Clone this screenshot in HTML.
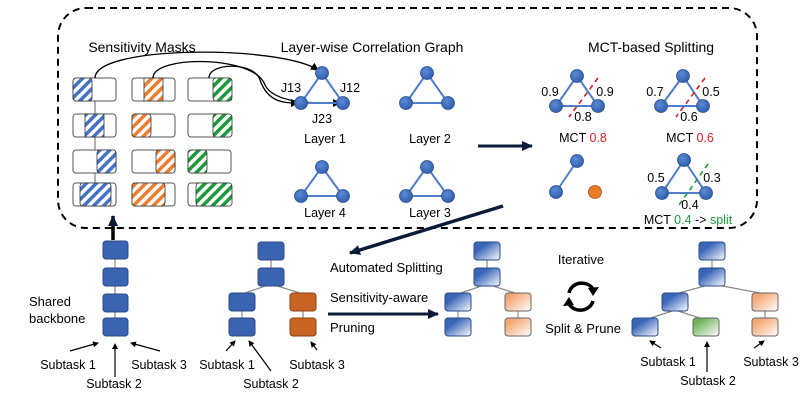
<!DOCTYPE html>
<html><head><meta charset="utf-8"><style>
body{margin:0;background:#fff}
svg{display:block;font-family:"Liberation Sans",sans-serif}
</style></head><body>
<svg width="800" height="416" viewBox="0 0 800 416" xmlns="http://www.w3.org/2000/svg">
<defs>
<pattern id="pb" width="7" height="7" patternUnits="userSpaceOnUse" patternTransform="rotate(45)"><rect width="7" height="7" fill="#fff"/><rect width="3.5" height="7" fill="#4472c4"/></pattern>
<pattern id="po" width="7" height="7" patternUnits="userSpaceOnUse" patternTransform="rotate(45)"><rect width="7" height="7" fill="#fff"/><rect width="3.5" height="7" fill="#ed7d31"/></pattern>
<pattern id="pg" width="7" height="7" patternUnits="userSpaceOnUse" patternTransform="rotate(45)"><rect width="7" height="7" fill="#fff"/><rect width="3.5" height="7" fill="#1e9a3e"/></pattern>
<linearGradient id="gb" x1="0" y1="0" x2="1" y2="1"><stop offset="0.3" stop-color="#3a66b8"/><stop offset="1" stop-color="#fff"/></linearGradient>
<linearGradient id="go" x1="0" y1="0" x2="1" y2="1"><stop offset="0.2" stop-color="#f4a672"/><stop offset="1" stop-color="#fff"/></linearGradient>
<linearGradient id="gg" x1="0" y1="0" x2="1" y2="1"><stop offset="0.2" stop-color="#6fb35a"/><stop offset="1" stop-color="#fff"/></linearGradient>
<radialGradient id="nb" cx="0.4" cy="0.35" r="0.7"><stop offset="0" stop-color="#5b8ad6"/><stop offset="1" stop-color="#2f5cab"/></radialGradient>
<marker id="ah" markerWidth="8" markerHeight="8" refX="7" refY="4" orient="auto" markerUnits="userSpaceOnUse"><path d="M0,0 L8,4 L0,8 z" fill="#000"/></marker>
<marker id="ahn" markerWidth="12" markerHeight="12" refX="10" refY="6" orient="auto" markerUnits="userSpaceOnUse"><path d="M0,1 L11,6 L0,11 z" fill="#0c1a3a"/></marker>
<marker id="ahs" markerWidth="6" markerHeight="6" refX="5" refY="3" orient="auto" markerUnits="userSpaceOnUse"><path d="M0,0 L6,3 L0,6 z" fill="#000"/></marker>
</defs>

<rect x="58" y="8" width="699" height="220" rx="28" fill="none" stroke="#000" stroke-width="2" stroke-dasharray="7,5"/>

<g font-size="14" fill="#000" text-anchor="middle">
<text x="142" y="52">Sensitivity Masks</text>
<text x="372" y="52">Layer-wise Correlation Graph</text>
<text x="651" y="52">MCT-based Splitting</text>
</g>

<!-- masks -->
<line x1="95" y1="101" x2="95" y2="183" stroke="#999" stroke-width="1.5"/>
<g stroke="#555" stroke-width="1">
<rect x="73" y="78" width="43" height="23" rx="3" fill="#fff"/>
<rect x="73" y="114" width="43" height="23" rx="3" fill="#fff"/>
<rect x="73" y="150" width="43" height="23" rx="3" fill="#fff"/>
<rect x="73" y="183" width="43" height="23" rx="3" fill="#fff"/>
<rect x="132" y="78" width="43" height="23" rx="3" fill="#fff"/>
<rect x="132" y="114" width="43" height="23" rx="3" fill="#fff"/>
<rect x="132" y="150" width="43" height="23" rx="3" fill="#fff"/>
<rect x="132" y="183" width="43" height="23" rx="3" fill="#fff"/>
<rect x="188" y="78" width="43" height="23" rx="3" fill="#fff"/>
<rect x="188" y="114" width="43" height="23" rx="3" fill="#fff"/>
<rect x="188" y="150" width="43" height="23" rx="3" fill="#fff"/>
<rect x="188" y="183" width="43" height="23" rx="3" fill="#fff"/>
</g>
<g stroke="#333" stroke-width="0.8">
<rect x="73" y="78" width="19" height="23" rx="3" fill="url(#pb)"/>
<rect x="85" y="114" width="19" height="23" fill="url(#pb)"/>
<rect x="97" y="150" width="19" height="23" rx="3" fill="url(#pb)"/>
<rect x="80" y="183" width="31" height="23" rx="3" fill="url(#pb)"/>
<rect x="144" y="78" width="19" height="23" fill="url(#po)"/>
<rect x="132" y="114" width="19" height="23" rx="3" fill="url(#po)"/>
<rect x="156" y="150" width="19" height="23" rx="3" fill="url(#po)"/>
<rect x="132" y="183" width="33" height="23" rx="3" fill="url(#po)"/>
<rect x="213" y="78" width="19" height="23" rx="3" fill="url(#pg)"/>
<rect x="213" y="114" width="19" height="23" rx="3" fill="url(#pg)"/>
<rect x="188" y="150" width="19" height="23" rx="3" fill="url(#pg)"/>
<rect x="196" y="183" width="36" height="23" rx="3" fill="url(#pg)"/>
</g>
<g fill="none" stroke="#000" stroke-width="1.3">
<path d="M95,78 C95,45 280,45 318,70" marker-end="url(#ah)"/>
<path d="M153,78 C153,55 255,55 265,85 C275,105 320,103 340,103" marker-end="url(#ah)"/>
<path d="M209,78 C209,62 255,62 260,80 C268,103 285,103 298,103" marker-end="url(#ah)"/>
</g>

<!-- graphs -->
<g stroke="#4f7cc7" stroke-width="2" fill="none">
<path d="M322,73 L301,103 L343,103 Z"/>
<path d="M427,73 L406,103 L448,103 Z"/>
<path d="M322,167 L301,196 L343,196 Z"/>
<path d="M427,167 L406,196 L448,196 Z"/>
<path d="M577,76 L556,106 L598,106 Z"/>
<path d="M683,76 L661,106 L703,106 Z"/>
<path d="M577,161 L556,192"/>
<path d="M684,160 L662,193 L706,193 Z"/>
</g>
<g fill="url(#nb)" stroke="#2b4f8f" stroke-width="0.8">
<circle cx="322" cy="73" r="6.5"/><circle cx="301" cy="103" r="6.5"/><circle cx="343" cy="103" r="6.5"/>
<circle cx="427" cy="73" r="6.5"/><circle cx="406" cy="103" r="6.5"/><circle cx="448" cy="103" r="6.5"/>
<circle cx="322" cy="167" r="6.5"/><circle cx="301" cy="196" r="6.5"/><circle cx="343" cy="196" r="6.5"/>
<circle cx="427" cy="167" r="6.5"/><circle cx="406" cy="196" r="6.5"/><circle cx="448" cy="196" r="6.5"/>
<circle cx="577" cy="76" r="6.5"/><circle cx="556" cy="106" r="6.5"/><circle cx="598" cy="106" r="6.5"/>
<circle cx="683" cy="76" r="6.5"/><circle cx="661" cy="106" r="6.5"/><circle cx="703" cy="106" r="6.5"/>
<circle cx="577" cy="161" r="6.5"/><circle cx="556" cy="192" r="6.5"/>
<circle cx="684" cy="160" r="6.5"/><circle cx="662" cy="193" r="6.5"/><circle cx="706" cy="193" r="6.5"/>
</g>
<circle cx="595" cy="192" r="6.5" fill="#e87d2c" stroke="#a54f10" stroke-width="0.8"/>
<g stroke="#d42020" stroke-width="1.6" stroke-dasharray="5,4" fill="none">
<path d="M598,78 L569,117"/><path d="M705,78 L676,117"/>
</g>
<path d="M708,164 L679,205" stroke="#1e9a3e" stroke-width="1.6" stroke-dasharray="5,4" fill="none"/>

<g font-size="12.5" fill="#000" text-anchor="middle">
<text x="291" y="92">J13</text><text x="350" y="92">J12</text><text x="322" y="123">J23</text>
<text x="325" y="143">Layer 1</text><text x="430" y="143">Layer 2</text>
<text x="325" y="217">Layer 4</text><text x="430" y="217">Layer 3</text>
<text x="550" y="96">0.9</text><text x="605" y="96">0.9</text><text x="583" y="121">0.8</text>
<text x="655" y="96">0.7</text><text x="711" y="96">0.5</text><text x="689" y="121">0.6</text>
<text x="656" y="182">0.5</text><text x="712" y="182">0.3</text><text x="690" y="209">0.4</text>
<text x="583" y="142">MCT <tspan fill="#e02020">0.8</tspan></text>
<text x="690" y="142">MCT <tspan fill="#e02020">0.6</tspan></text>
<text x="688" y="224">MCT <tspan fill="#1e9a3e">0.4</tspan> -&gt; <tspan fill="#1e9a3e">split</tspan></text>
</g>

<line x1="478" y1="146" x2="532" y2="146" stroke="#0c1a3a" stroke-width="3" marker-end="url(#ahn)"/>
<line x1="113" y1="240" x2="113" y2="216" stroke="#000" stroke-width="3.5" marker-end="url(#ahn)"/>
<line x1="503" y1="206" x2="350" y2="253" stroke="#0c1a3a" stroke-width="3.5" marker-end="url(#ahn)"/>
<line x1="328" y1="314" x2="438" y2="314" stroke="#0c1a3a" stroke-width="3" marker-end="url(#ahn)"/>

<!-- connectors -->
<g stroke="#888" stroke-width="1.2" fill="none">
<line x1="115" y1="250" x2="115" y2="327"/>
<line x1="271" y1="251" x2="271" y2="284"/><path d="M242,294 L271,284 L303,294"/><line x1="242" y1="302" x2="242" y2="327"/><line x1="303" y1="302" x2="303" y2="327"/>
<line x1="487" y1="251" x2="487" y2="284"/><path d="M458,294 L487,284 L518,294"/><line x1="458" y1="302" x2="458" y2="327"/><line x1="518" y1="302" x2="518" y2="327"/>
<line x1="712" y1="251" x2="712" y2="284"/><path d="M675,294 L712,284 L765,294"/><path d="M645,320 L675,310 L706,320"/><line x1="765" y1="302" x2="765" y2="327"/>
</g>
<g stroke="#2a4a86" stroke-width="1" fill="#3a64b0">
<rect x="103" y="241" width="25" height="18" rx="3"/><rect x="103" y="268" width="25" height="18" rx="3"/><rect x="103" y="294" width="25" height="18" rx="3"/><rect x="103" y="318" width="25" height="18" rx="3"/>
<rect x="258" y="242" width="26" height="18" rx="3"/><rect x="258" y="268" width="26" height="18" rx="3"/>
<rect x="229" y="293" width="26" height="18" rx="3"/><rect x="229" y="318" width="26" height="18" rx="3"/>
</g>
<g stroke="#8a4210" stroke-width="1" fill="#c86524">
<rect x="290" y="293" width="26" height="18" rx="3"/><rect x="290" y="318" width="26" height="18" rx="3"/>
</g>
<g stroke="#2a4a86" stroke-width="1" fill="url(#gb)">
<rect x="474" y="242" width="26" height="18" rx="3"/><rect x="474" y="268" width="26" height="18" rx="3"/>
<rect x="445" y="293" width="26" height="18" rx="3"/><rect x="445" y="318" width="26" height="18" rx="3"/>
<rect x="699" y="242" width="26" height="18" rx="3"/><rect x="699" y="268" width="26" height="18" rx="3"/>
<rect x="662" y="293" width="26" height="18" rx="3"/><rect x="632" y="318" width="26" height="18" rx="3"/>
</g>
<g stroke="#666" stroke-width="1" fill="url(#go)">
<rect x="505" y="293" width="26" height="18" rx="3"/><rect x="505" y="318" width="26" height="18" rx="3"/>
<rect x="752" y="293" width="26" height="18" rx="3"/><rect x="752" y="318" width="26" height="18" rx="3"/>
</g>
<rect x="693" y="318" width="26" height="18" rx="3" fill="url(#gg)" stroke="#666"/>

<g font-size="13" fill="#000">
<text x="29" y="306">Shared</text><text x="29" y="323">backbone</text>
<text x="330" y="272">Automated Splitting</text>
<text x="330" y="302">Sensitivity-aware</text>
<text x="330" y="332">Pruning</text>
<text x="581" y="264" text-anchor="middle">Iterative</text>
<text x="583" y="333" text-anchor="middle">Split &amp; Prune</text>
</g>
<g font-size="12.5" fill="#000" text-anchor="middle">
<text x="68" y="369">Subtask 1</text><text x="114" y="388">Subtask 2</text><text x="159" y="369">Subtask 3</text>
<text x="227" y="369">Subtask 1</text><text x="271" y="388">Subtask 2</text><text x="317" y="369">Subtask 3</text>
<text x="668" y="366">Subtask 1</text><text x="708" y="385">Subtask 2</text><text x="771" y="366">Subtask 3</text>
</g>
<g stroke="#000" stroke-width="1.2">
<line x1="70" y1="351" x2="98" y2="343" marker-end="url(#ahs)"/>
<line x1="115" y1="377" x2="115" y2="344" marker-end="url(#ahs)"/>
<line x1="160" y1="351" x2="131" y2="343" marker-end="url(#ahs)"/>
<line x1="226" y1="351" x2="235" y2="341" marker-end="url(#ahs)"/>
<line x1="271" y1="371" x2="249" y2="341" marker-end="url(#ahs)"/>
<line x1="317" y1="350" x2="311" y2="342" marker-end="url(#ahs)"/>
<line x1="661" y1="348" x2="650" y2="341" marker-end="url(#ahs)"/>
<line x1="707" y1="372" x2="707" y2="342" marker-end="url(#ahs)"/>
<line x1="754" y1="348" x2="764" y2="341" marker-end="url(#ahs)"/>
</g>
<g fill="none" stroke="#000" stroke-width="3.5">
<path d="M569,293 A13,12 0 0 1 593,289"/>
<path d="M593,301 A13,12 0 0 1 569,304"/>
</g>
<path d="M588,288 L599,287 L593,296 z" fill="#000"/>
<path d="M574,305 L563,306 L569,297 z" fill="#000"/>
</svg>
</body></html>
